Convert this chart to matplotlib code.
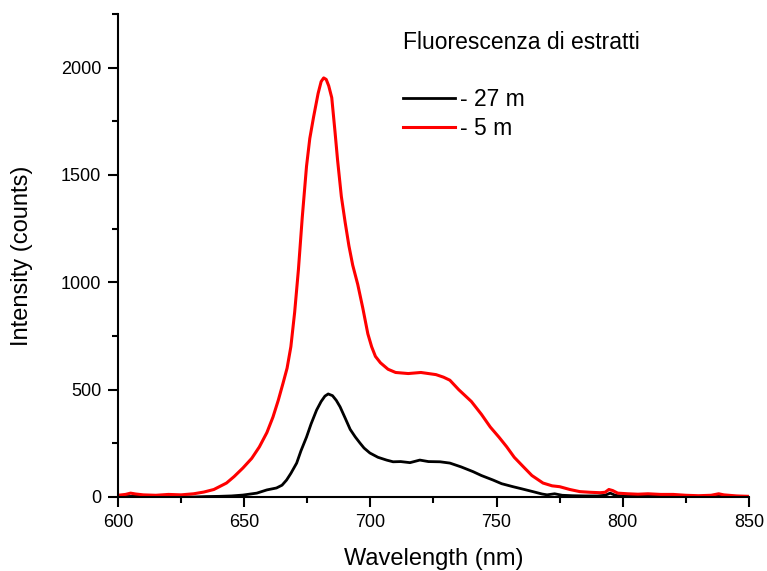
"""
Fluorescence spectra of extracts at two depths
"""
import matplotlib
matplotlib.use("Agg")
import matplotlib.pyplot as plt
from matplotlib.ticker import MultipleLocator

plt.rcParams['font.family'] = ['Liberation Sans', 'DejaVu Sans']

# red curve (5 m)
wl_5m = [600, 603, 605, 607, 610, 615, 620, 625, 630, 634, 638, 643, 646, 649.5,
         653, 656, 659, 661.4, 663.5, 665.4, 667, 668.5, 670, 671.5, 673, 674.7,
         676, 677.5, 679.3, 680.5, 681.5, 682.5, 683.5, 684.7, 686, 687, 688.5,
         690, 691.5, 693, 695, 697, 699, 700.5, 702, 704, 707, 710, 715, 720, 723,
         726, 729, 731.5, 735, 740, 744, 747.5, 751, 754, 757, 760.6, 764, 768.4,
         772, 775, 779, 783, 787, 791, 793, 794.5, 796, 798, 802, 806, 810, 815,
         820, 825, 830, 835, 838, 840, 845, 850]
int_5m = [8, 12, 18, 14, 10, 8, 12, 10, 15, 23, 35, 65, 95, 135,
          180, 233, 300, 372, 450, 530, 600, 700, 860, 1060, 1300, 1540,
          1670, 1770, 1880, 1935, 1952, 1945, 1915, 1860, 1700, 1570, 1400,
          1280, 1170, 1080, 990, 880, 760, 700, 655, 625, 595, 580, 575, 580, 575,
          570, 558, 544, 500, 445, 385, 326, 278, 234, 185, 141, 100, 65,
          52, 48, 35, 25, 22, 20, 22, 35, 30, 18, 15, 13, 15, 12,
          12, 8, 6, 8, 15, 10, 5, 3]

# black curve (27 m)
wl_27m = [600, 610, 620, 630, 635, 640, 645, 649.5, 655, 659, 662.8, 665, 666.8,
          668.5, 670.8, 672.5, 674.7, 676.5, 678.7, 680.5, 682, 683.3, 685, 686.5,
          688, 690, 692, 694, 695.9, 697.5, 699.8, 703, 706.4, 709, 712, 715.7,
          719.6, 723, 727.6, 731.5, 736, 740.7, 744, 748.6, 752, 756.5, 760, 764.4,
          768, 770, 773, 776, 780, 785, 790, 793, 795, 797, 800, 810, 820, 830,
          840, 850]
int_27m = [2, 3, 2, 0, 2, 3, 5, 9, 18, 33, 42, 55, 79,
           110, 158, 215, 279, 340, 405, 445, 470, 480, 472, 450,
           420, 368, 315, 280, 251, 228, 205, 185, 172, 164, 165, 160,
           172, 165, 164, 158, 140, 118, 100, 79, 62, 48, 38, 25,
           14, 10, 15, 8, 6, 5, 5, 8, 18, 8, 4, 3, 3, 2,
           4, 2]

fig = plt.figure(figsize=(7.67, 5.71), dpi=100)
ax = fig.add_axes([0.1538, 0.1296, 0.8227, 0.846])

ax.plot(wl_27m, int_27m, color='black', linewidth=2, label="- 27 m")
ax.plot(wl_5m, int_5m, color='#ff0000', linewidth=2.2, label="- 5 m")

ax.set_xlim(600, 850)
ax.set_ylim(0, 2250)
ax.xaxis.set_major_locator(MultipleLocator(50))
ax.xaxis.set_minor_locator(MultipleLocator(25))
ax.yaxis.set_major_locator(MultipleLocator(500))
ax.yaxis.set_minor_locator(MultipleLocator(250))

for side in ['top', 'right']:
    ax.spines[side].set_visible(False)
for side in ['left', 'bottom']:
    ax.spines[side].set_linewidth(1.5)
ax.tick_params(which='major', direction='out', length=7, width=1.5, labelsize=13, pad=5)
ax.tick_params(which='minor', direction='out', length=4, width=1.5)

ax.set_xlabel("Wavelength (nm)", fontsize=17)
ax.set_ylabel("Intensity (counts)", fontsize=17)
ax.xaxis.set_label_coords(0.5, -0.106)
ax.yaxis.set_label_coords(-0.135, 0.5)

fig.text(0.525, 0.914, "Fluorescenza di estratti", fontsize=16.5, va='baseline', ha='left')
ax.legend(loc='center left', bbox_to_anchor=(0.525, 0.8, 0, 0), bbox_transform=fig.transFigure,
          frameon=False, fontsize=16.5, handlelength=2.3, handletextpad=0.2,
          borderpad=0, borderaxespad=0, labelspacing=0.25)

fig.savefig("out.png", dpi=100)
